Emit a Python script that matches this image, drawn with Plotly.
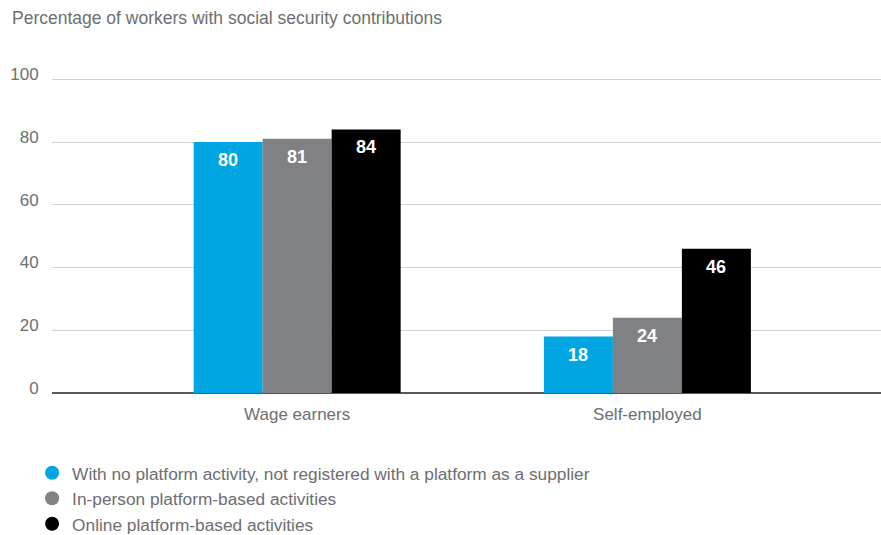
import plotly.graph_objects as go

# Worker groups and share with social security contributions (%)
categories = ["Wage earners", "Self-employed"]
series_names = [
    "With no platform activity, not registered with a platform as a supplier",
    "In-person platform-based activities",
    "Online platform-based activities",
]
no_platform = [80, 18]
in_person = [81, 24]
online = [84, 46]
y_ticks = [0, 20, 40, 60, 80, 100]

colors = ["#00a6e2", "#808184", "#000000"]
values = [no_platform, in_person, online]

FONT = "Liberation Sans, Arial, Helvetica, sans-serif"
GREY = "#6d6e71"
Y_MAX = 100.4

fig = go.Figure()
for i, (name, vals) in enumerate(zip(series_names, values)):
    fig.add_trace(go.Bar(
        x=categories, y=vals, name=name,
        marker=dict(color=colors[i], line=dict(width=0)),
        offsetgroup=str(i), showlegend=False, hoverinfo="skip",
    ))
    # round legend swatch
    fig.add_trace(go.Scatter(
        x=[None], y=[None], mode="markers", name=name,
        marker=dict(symbol="circle", size=14, color=colors[i]),
        showlegend=True, legendgroup=str(i),
    ))

# value labels placed just below each bar top
for i, vals in enumerate(values):
    for j, v in enumerate(vals):
        fig.add_annotation(
            x=j + (i - 1) * 0.197, y=v, xref="x", yref="y",
            text=f"<b>{v}</b>", showarrow=False, yshift=-18,
            font=dict(family=FONT, size=18, color="white"),
        )

fig.add_annotation(
    x=-42 / 829, y=1.0 + 60 / 315, xref="x domain", yref="y domain",
    text="Percentage of workers with social security contributions",
    showarrow=False, xanchor="left", yanchor="middle",
    font=dict(family=FONT, size=17.5, color=GREY),
)

fig.update_layout(
    width=881, height=535,
    margin=dict(l=52, r=0, t=78, b=142, autoexpand=False),
    paper_bgcolor="white", plot_bgcolor="white",
    barmode="group", bargap=0.409, bargroupgap=0,
    font=dict(family=FONT, size=17, color=GREY),
    showlegend=True,
    legend=dict(
        x=-0.024, xanchor="left", y=-0.197, yanchor="top",
        orientation="v", tracegroupgap=0,
        font=dict(family=FONT, size=17.3, color=GREY),
        bgcolor="rgba(0,0,0,0)",
    ),
    hovermode=False,
)
fig.update_xaxes(
    type="category", range=[-0.70, 1.667],
    showgrid=False, showline=False, zeroline=False,
    ticks="outside", ticklen=6, tickcolor="rgba(0,0,0,0)",
    tickfont=dict(family=FONT, size=17, color=GREY),
)
fig.update_yaxes(
    range=[0, Y_MAX], tickvals=y_ticks,
    showgrid=True, gridcolor="#d1d2d4", gridwidth=1,
    zeroline=True, zerolinecolor="#58595b", zerolinewidth=1.5,
    showline=False,
    ticks="outside", ticklen=9, tickcolor="rgba(0,0,0,0)",
    ticklabelshift=-5,
    tickfont=dict(family=FONT, size=17, color=GREY),
)

fig.write_html("out.html")
